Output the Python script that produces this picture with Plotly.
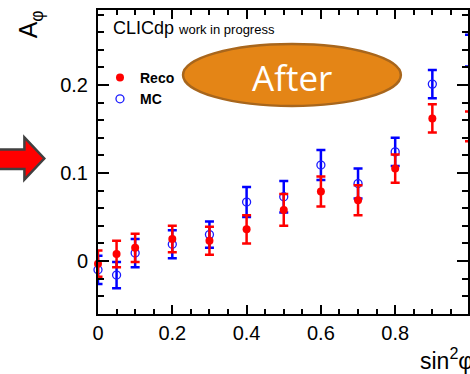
import plotly.graph_objects as go

# ---- data ----
sin2phi = [0, 0.05, 0.1, 0.2, 0.3, 0.4, 0.5, 0.6, 0.7, 0.8, 0.9, 1.0]
reco = [-0.003, 0.008, 0.015, 0.025, 0.023, 0.036, 0.058, 0.079, 0.069, 0.105, 0.162, 0.153]
reco_err = [0.015, 0.015, 0.016, 0.015, 0.016, 0.016, 0.018, 0.017, 0.017, 0.016, 0.016, 0.017]
mc = [-0.010, -0.016, 0.009, 0.019, 0.030, 0.067, 0.073, 0.109, 0.088, 0.124, 0.201, 0.239]
mc_err = [0.016, 0.015, 0.016, 0.016, 0.015, 0.017, 0.018, 0.017, 0.017, 0.016, 0.016, 0.018]
x_tickvals = [0, 0.2, 0.4, 0.6, 0.8, 1.0]
x_ticktext = ["0", "0.2", "0.4", "0.6", "0.8", "1"]
y_tickvals = [0, 0.1, 0.2]
y_ticktext = ["0", "0.1", "0.2"]

W, H = 470, 374
ML, MR, MT, MB = 98, 0, 10, 60
PW, PH = W - ML - MR, H - MT - MB


def fx(p):
    return (p - ML) / PW


def fy(p):
    return (H - MB - p) / PH


FONT = "Liberation Sans, Arial, Helvetica, sans-serif"

fig = go.Figure()
fig.add_trace(go.Scatter(
    x=sin2phi, y=mc, mode="markers", name="<b>MC</b>",
    marker=dict(symbol="circle-open", size=8, color="#1a1aff", line=dict(width=1.3, color="#1a1aff")),
    error_y=dict(type="data", array=mc_err, color="#0000ff", thickness=2.5, width=4.5),
    cliponaxis=False,
))
fig.add_trace(go.Scatter(
    x=sin2phi, y=reco, mode="markers", name="<b>Reco</b>",
    marker=dict(symbol="circle", size=8, color="#ff0000"),
    error_y=dict(type="data", array=reco_err, color="#ff0000", thickness=2.5, width=4.5),
    cliponaxis=False,
))

axis_common = dict(
    showline=True, linecolor="black", linewidth=2, mirror="allticks",
    ticks="inside", tickcolor="black", tickwidth=2,
    showgrid=False, zeroline=False,
    tickfont=dict(family=FONT, size=20, color="black"),
)
fig.update_xaxes(range=[0, PW / 373.5], tickmode="array", tickvals=x_tickvals, ticktext=x_ticktext,
                 ticklen=9, minor=dict(dtick=0.05, ticks="inside", ticklen=5, tickwidth=2, tickcolor="black"),
                 **axis_common)
fig.update_yaxes(range=[-(H - MB - 261) / 880, (261 - MT) / 880], tickmode="array", tickvals=y_tickvals,
                 ticktext=y_ticktext, ticklen=11, ticklabelstandoff=4,
                 minor=dict(dtick=0.02, ticks="inside", ticklen=6, tickwidth=2, tickcolor="black"),
                 **axis_common)

# arrow (decoration)
pts = [(-5, 149.5), (24, 149.5), (24, 137.5), (44, 158.5), (24, 179.5), (24, 169), (-5, 169)]
path = "M " + " L ".join(f"{fx(a):.5f},{fy(b):.5f}" for a, b in pts) + " Z"
shapes = [
    dict(type="path", xref="paper", yref="paper", path=path, fillcolor="#ff0000",
         line=dict(color="#404040", width=2.5), layer="above"),
    dict(type="circle", xref="paper", yref="paper", x0=fx(183.5), x1=fx(402.5), y0=fy(106), y1=fy(44),
         fillcolor="#e48516", line=dict(color="#a8661c", width=2.5), layer="above"),
]

annotations = [
    dict(text="After", xref="paper", yref="paper", x=fx(293.5), y=fy(77), xanchor="center", yanchor="middle",
         showarrow=False, font=dict(family="Open Sans, Lato, sans-serif", size=35, color="white")),
    dict(text="CLICdp <span style='font-size:13px'>work in progress</span>", xref="paper", yref="paper",
         x=fx(111), y=fy(28), xanchor="left", yanchor="middle", showarrow=False,
         font=dict(family=FONT, size=18, color="black")),
    dict(text="A<sub>φ</sub>", xref="paper", yref="paper", x=fx(30), y=fy(24), xanchor="center",
         yanchor="middle", textangle=-90, showarrow=False, font=dict(family=FONT, size=25, color="black")),
    dict(text="sin<sup>2</sup>φ", xref="paper", yref="paper", x=fx(477), y=fy(359), xanchor="right",
         yanchor="middle", showarrow=False, font=dict(family=FONT, size=23, color="black")),
]

fig.update_layout(
    width=W, height=H, margin=dict(l=ML, r=MR, t=MT, b=MB, pad=0),
    paper_bgcolor="white", plot_bgcolor="white",
    shapes=shapes, annotations=annotations,
    showlegend=True,
    legend=dict(x=fx(100), y=fy(62), xanchor="left", yanchor="top", traceorder="reversed",
                bgcolor="rgba(0,0,0,0)", borderwidth=0,
                font=dict(family=FONT, size=14, color="black")),
)

fig.write_html("out.html", config={"displayModeBar": False},
               post_script="document.body.style.margin='0';document.body.style.overflow='hidden';")
